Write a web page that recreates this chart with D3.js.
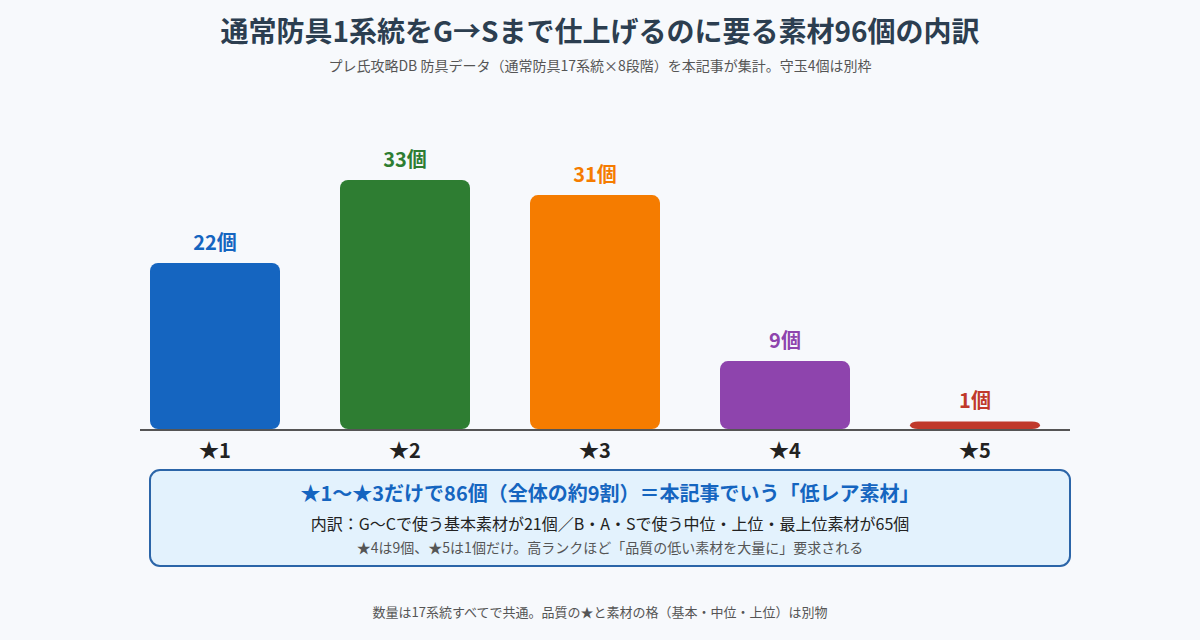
<!DOCTYPE html>
<html lang="ja">
<head>
<meta charset="utf-8">
<script src="https://cdn.jsdelivr.net/npm/d3@7"></script>
<style>
  html, body { margin: 0; padding: 0; background: #f7f9fc; }
  svg { display: block; font-family: "Noto Sans CJK JP", "Noto Sans", sans-serif; }
</style>
</head>
<body>
<svg id="chart"></svg>
<script>
// data
const categories = ['★1', '★2', '★3', '★4', '★5'];
const counts = [22, 33, 31, 9, 1];
const barColors = ['#1565c0', '#2e7d32', '#f57c00', '#8e44ad', '#c0392b'];
const unit = '個';

const titleText = '通常防具1系統をG→Sまで仕上げるのに要る素材96個の内訳';
const subtitleText = 'プレ氏攻略DB 防具データ（通常防具17系統×8段階）を本記事が集計。守玉4個は別枠';
const noteLines = [
    '★1〜★3だけで86個（全体の約9割）＝本記事でいう「低レア素材」',
    '内訳：G〜Cで使う基本素材が21個／B・A・Sで使う中位・上位・最上位素材が65個',
    '★4は9個、★5は1個だけ。高ランクほど「品質の低い素材を大量に」要求される'
];
const footText = '数量は17系統すべてで共通。品質の★と素材の格（基本・中位・上位）は別物';

const W = 1200, H = 640;
const baseY = 429;

const svg = d3.select('#chart')
    .attr('width', W)
    .attr('height', H);

svg.append('rect')
    .attr('width', W).attr('height', H)
    .attr('fill', '#f7f9fc');

// title + subtitle
svg.append('text')
    .attr('x', W / 2).attr('y', 42)
    .attr('text-anchor', 'middle')
    .attr('font-size', 28).attr('font-weight', 700)
    .attr('fill', '#2c3e50')
    .text(titleText);

svg.append('text')
    .attr('x', W / 2).attr('y', 71)
    .attr('text-anchor', 'middle')
    .attr('font-size', 14)
    .attr('fill', '#555')
    .text(subtitleText);

// scales
const x = d3.scaleBand()
    .domain(categories)
    .range([120, 1070])
    .paddingInner(60 / 190)
    .paddingOuter(30 / 190);

const y = d3.scaleLinear()
    .domain([0, d3.max(counts)])
    .range([baseY, 180]);

const rows = categories.map((c, i) => ({ cat: c, value: counts[i], color: barColors[i] }));

// bars
svg.append('g')
    .selectAll('rect')
    .data(rows)
    .join('rect')
    .attr('x', d => x(d.cat))
    .attr('y', d => y(d.value))
    .attr('width', x.bandwidth())
    .attr('height', d => baseY - y(d.value))
    .attr('rx', 8)
    .attr('fill', d => d.color);

// value labels
svg.append('g')
    .selectAll('text')
    .data(rows)
    .join('text')
    .attr('x', d => x(d.cat) + x.bandwidth() / 2)
    .attr('y', d => y(d.value) - 13)
    .attr('text-anchor', 'middle')
    .attr('font-size', 20).attr('font-weight', 700)
    .attr('fill', d => d.color)
    .text(d => d.value + unit);

// baseline
svg.append('line')
    .attr('x1', 140).attr('x2', 1070)
    .attr('y1', baseY + 1).attr('y2', baseY + 1)
    .attr('stroke', '#555').attr('stroke-width', 2);

// category axis
const xAxis = d3.axisBottom(x).tickSize(0).tickPadding(0);
const xAxisG = svg.append('g')
    .attr('transform', `translate(0,${baseY})`)
    .call(xAxis);
xAxisG.select('.domain').remove();
xAxisG.selectAll('text')
    .attr('y', 29)
    .attr('dy', null)
    .attr('font-family', '"Noto Sans CJK JP", "Noto Sans", sans-serif')
    .attr('font-size', 20).attr('font-weight', 700)
    .attr('fill', '#222');

// note box
svg.append('rect')
    .attr('x', 150).attr('y', 470)
    .attr('width', 920).attr('height', 96)
    .attr('rx', 10)
    .attr('fill', '#e3f2fd')
    .attr('stroke', '#2b65a8').attr('stroke-width', 2);

svg.append('text')
    .attr('x', 610).attr('y', 501)
    .attr('text-anchor', 'middle')
    .attr('font-size', 20).attr('font-weight', 700)
    .attr('fill', '#1565c0')
    .text(noteLines[0]);

svg.append('text')
    .attr('x', 610).attr('y', 530)
    .attr('text-anchor', 'middle')
    .attr('font-size', 16)
    .attr('fill', '#222')
    .text(noteLines[1]);

svg.append('text')
    .attr('x', 610).attr('y', 553)
    .attr('text-anchor', 'middle')
    .attr('font-size', 14)
    .attr('fill', '#555')
    .text(noteLines[2]);

// footer
svg.append('text')
    .attr('x', W / 2).attr('y', 617)
    .attr('text-anchor', 'middle')
    .attr('font-size', 13)
    .attr('fill', '#555')
    .text(footText);
</script>
</body>
</html>
